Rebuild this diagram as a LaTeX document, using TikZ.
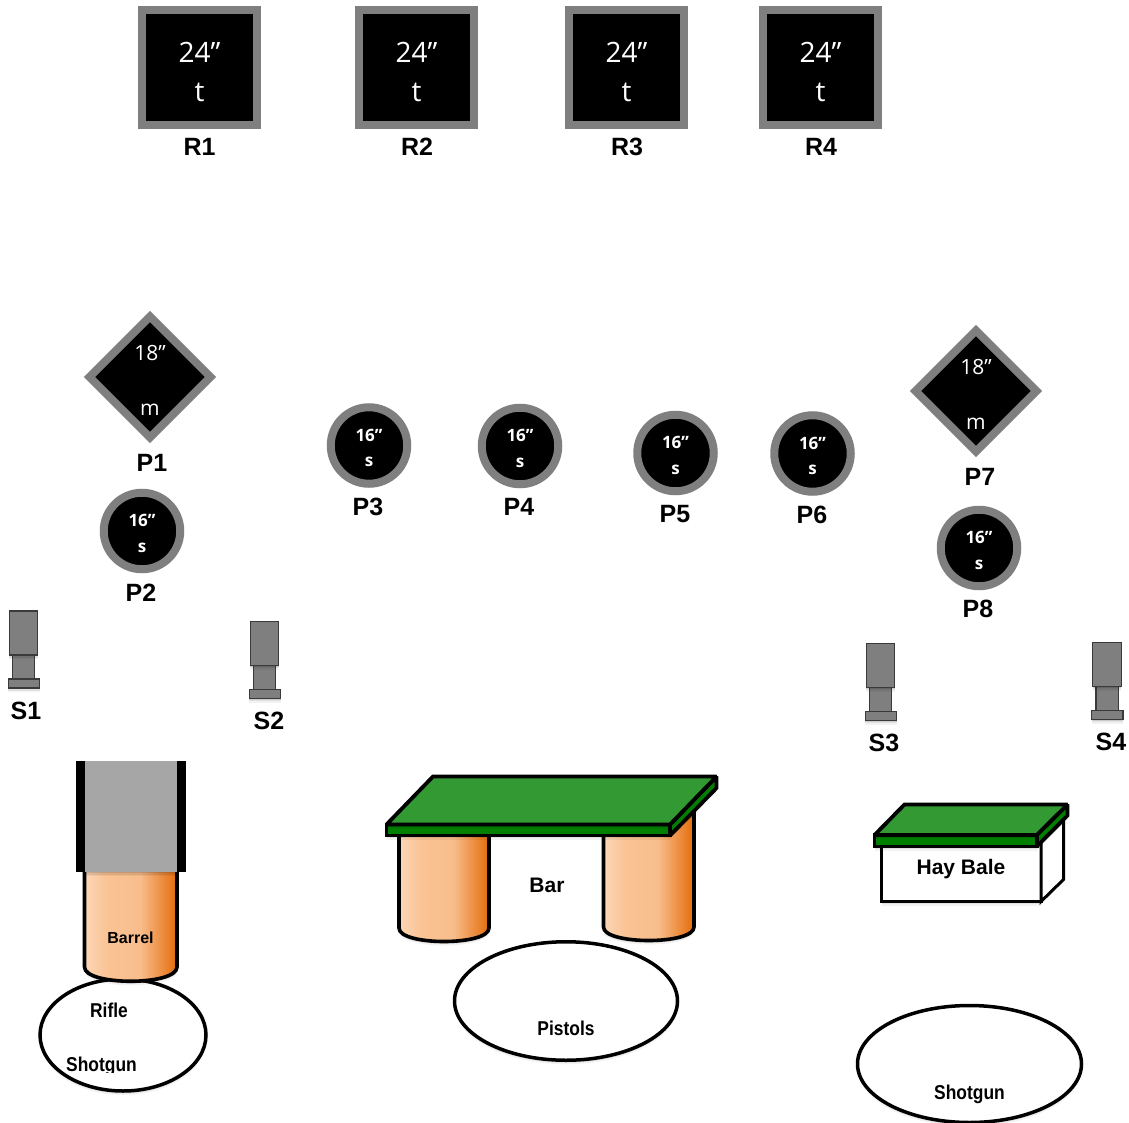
\documentclass[tikz,border=0pt]{standalone}
\usepackage{fontspec}
\setmainfont{Liberation Sans}
\newfontfamily\tgtfont{Open Sans}
\usetikzlibrary{shapes.geometric,shadows}
\definecolor{frameg}{HTML}{7F7F7F}
\definecolor{standedge}{HTML}{3A3A3A}
\definecolor{pipeg}{HTML}{A6A6A6}
\definecolor{slabtop}{HTML}{339933}
\definecolor{slabfront}{HTML}{007F00}
\definecolor{ca}{HTML}{FCD7B8}
\definecolor{cb}{HTML}{FAC394}
\definecolor{cc}{HTML}{F8BD8C}
\definecolor{cd}{HTML}{E46C0A}
\pgfdeclarehorizontalshading{barrelshade}{100bp}{color(0bp)=(ca); color(25bp)=(ca); color(37bp)=(cb); color(55bp)=(cc); color(75bp)=(cd); color(100bp)=(cd)}
\tikzset{
  soft/.style={
    general shadow={shadow yshift=-1pt,fill=black,opacity=.09},
    general shadow={shadow yshift=-2.5pt,fill=black,opacity=.07},
    general shadow={shadow yshift=-4pt,fill=black,opacity=.05}},
  frame/.style={draw=frameg,fill=black,line width=8pt,inner sep=0pt,soft},
  squaretgt/.style={frame,rectangle,minimum size=115pt},
  roundtgt/.style={frame,circle,minimum size=76.5pt},
  diamondtgt/.style={frame,diamond,aspect=1,minimum size=121pt,outer sep=0pt},
  bigtxt/.style={text=white,inner sep=0pt,font=\tgtfont\fontsize{28}{28}\selectfont},
  midtxt/.style={text=white,inner sep=0pt,font=\tgtfont\fontsize{21}{21}\selectfont},
  smalltxt/.style={text=white,inner sep=0pt,font=\tgtfont\bfseries\fontsize{17}{17}\selectfont},
  lab/.style={inner sep=0pt,font=\bfseries\fontsize{25}{25}\selectfont},
  propname/.style={inner sep=0pt,font=\bfseries\fontsize{21}{21}\selectfont},
  gunname/.style={inner sep=0pt,xscale=.87,font=\bfseries\fontsize{20}{20}\selectfont},
  ring/.style={draw=black,fill=white,line width=3.5pt,ellipse,inner sep=0pt,soft},
  standpart/.style={draw=standedge,fill=frameg,line width=1.2pt,soft},
  slab/.style={draw=black,line width=3.8pt,line join=miter,miter limit=1.5,soft},
  leg/.style={draw=black,line width=3.6pt,shade,shading=barrelshade,soft}
}
\newcommand{\squarepiece}[4]{%
  \node[squaretgt] (#1) at (#2,67.5) {};
  \node[bigtxt] (#1size) at (#2,52) {24”};
  \node[bigtxt] (#1kind) at (#2,92) {t};
  \node[lab] (#1lab) at (#3,147) {#4};}
\newcommand{\roundpiece}[6]{%
  \node[roundtgt] (#1) at (#2,#3) {};
  \node[smalltxt] (#1size) at (#2,#3-10.5) {16”};
  \node[smalltxt] (#1kind) at (#2,#3+16.5) {s};
  \node[lab] (#1lab) at (#4,#5) {#6};}
\newcommand{\diamondpiece}[6]{%
  \node[diamondtgt] (#1) at (#2,#3) {};
  \node[midtxt] (#1size) at (#2,#3-24) {18”};
  \node[midtxt] (#1kind) at (#2,#3+33) {m};
  \node[lab] (#1lab) at (#4,#5) {#6};}
\newcommand{\standpiece}[5]{%
  \begin{scope}[shift={(#2,#3)}]
    \path[standpart] (12.5,655) rectangle (34.7,679);
    \path[standpart] (9.3,611) rectangle (37.7,655);
    \path[standpart] (8.3,679) rectangle (39.5,688);
  \end{scope}
  \node[lab] (#1lab) at (#4,#5) {#1};}
\begin{document}
\begin{tikzpicture}[x=1pt,y=-1pt]
\useasboundingbox (0,0) rectangle (1129,1123);

% rifle targets
\squarepiece{R1}{199.5}{199.5}{R1}
\squarepiece{R2}{416.5}{417}{R2}
\squarepiece{R3}{626.5}{627}{R3}
\squarepiece{R4}{820.5}{821}{R4}

% pistol targets
\diamondpiece{P1}{150}{377}{152}{463}{P1}
\roundpiece{P2}{142}{531}{141}{593}{P2}
\roundpiece{P3}{369}{445.5}{368}{507}{P3}
\roundpiece{P4}{520}{446}{519}{507}{P4}
\roundpiece{P5}{675.5}{453}{675}{514}{P5}
\roundpiece{P6}{812.5}{453.5}{812}{515}{P6}
\diamondpiece{P7}{976}{391}{980}{477}{P7}
\roundpiece{P8}{979}{548}{978}{609}{P8}

% stands
\standpiece{S1}{0}{0}{26}{711}
\standpiece{S2}{241}{10.5}{269}{721}
\standpiece{S3}{857}{32.5}{884}{743}
\standpiece{S4}{1083.5}{31.5}{1111}{742}

% rifle / shotgun position with barrel
\node[ring,minimum width=166pt,minimum height=112pt] (ringA) at (123,1035) {};
\path[leg] (84.5,860) -- (84.5,967) .. controls (84.5,986) and (177,986) .. (177,967) -- (177,860) -- cycle;
\path[fill=pipeg,soft] (85,761) rectangle (177,872);
\path[fill=black] (76,761) rectangle (85,872);
\path[fill=black] (177,761) rectangle (186,872);
\node[inner sep=0pt,font=\bfseries\fontsize{16}{16}\selectfont] (barrel) at (130.5,938) {Barrel};
\node[gunname] (rifle) at (109,1010) {Rifle};
\begin{scope}
  \clip (55,1045) rectangle (150,1072);
  \node[gunname,anchor=base] (shotgunA) at (101.5,1071) {Shotgun};
\end{scope}

% bar
\path[leg] (399,825) -- (399,928) .. controls (399,946) and (489,946) .. (489,928) -- (489,825) -- cycle;
\path[leg] (603.5,805) -- (603.5,927) .. controls (603.5,945) and (694,945) .. (694,927) -- (694,805) -- cycle;
\path[slab,fill=slabfront] (670,824.5) -- (716.5,776.5) -- (716.5,788) -- (670,835.5) -- cycle;
\path[slab,fill=slabfront] (386.5,824.5) rectangle (670,835.5);
\path[slab,fill=slabtop] (386.5,824.5) -- (433,776.5) -- (716.5,776.5) -- (670,824.5) -- cycle;
\node[propname] (bar) at (547,885) {Bar};
\node[ring,minimum width=223pt,minimum height=118.5pt] (ringB) at (566,1001) {};
\node[gunname] (pistols) at (566,1028.5) {Pistols};

% hay bale
\path[draw=black,fill=white,line width=3pt,soft,line join=miter] (881.5,840) rectangle (1041,901.5);
\path[draw=black,fill=white,line width=3pt,line join=miter] (1041,901.5) -- (1063.5,879.5) -- (1063.5,812) -- (1041,835) -- cycle;
\path[slab,fill=slabfront] (1036.7,835) -- (1067.5,804.5) -- (1067.5,815.5) -- (1036.7,846.5) -- cycle;
\path[slab,fill=slabfront] (874.5,835) rectangle (1036.7,846.5);
\path[slab,fill=slabtop] (874.5,835) -- (904.5,804.5) -- (1067.5,804.5) -- (1036.7,835) -- cycle;
\node[propname] (hay) at (961,869) {Hay Bale};
\node[ring,minimum width=224pt,minimum height=117pt] (ringC) at (969.5,1064) {};
\node[gunname] (shotgunB) at (969.5,1094) {Shotgun};
\end{tikzpicture}
\end{document}
